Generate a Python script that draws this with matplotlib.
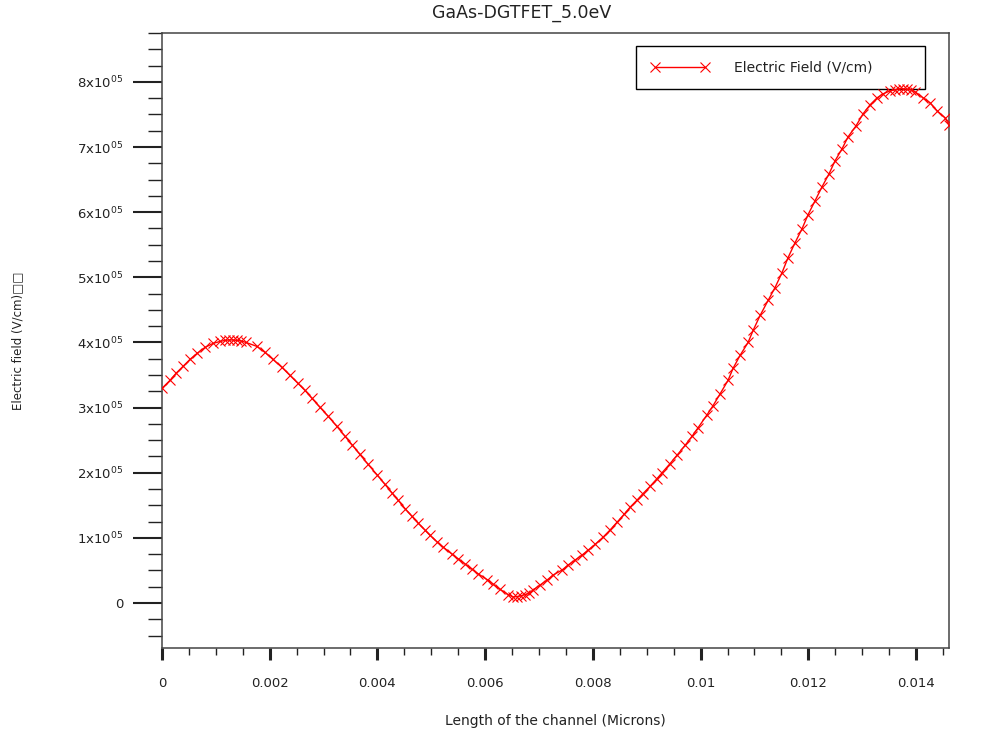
import numpy as np
import matplotlib
matplotlib.use("Agg")
import matplotlib.pyplot as plt
from matplotlib.ticker import MultipleLocator, FixedLocator, FixedFormatter

# --- dados extraídos da simulação (campo elétrico ao longo do canal) ---
# posição no canal (microns)
x_pos = [
    0.000000, 0.000149, 0.000260, 0.000390, 0.000520, 0.000650, 0.000798, 0.000947,
    0.001077, 0.001170, 0.001244, 0.001318, 0.001393, 0.001467, 0.001560, 0.001764,
    0.001913, 0.002061, 0.002228, 0.002377, 0.002525, 0.002655, 0.002785, 0.002934,
    0.003082, 0.003249, 0.003398, 0.003528, 0.003676, 0.003825, 0.003992, 0.004141,
    0.004271, 0.004382, 0.004512, 0.004642, 0.004753, 0.004883, 0.004976, 0.005106,
    0.005218, 0.005385, 0.005496, 0.005626, 0.005756, 0.005867, 0.006035, 0.006146,
    0.006276, 0.006425, 0.006517, 0.006592, 0.006666, 0.006740, 0.006814, 0.006889,
    0.007019, 0.007149, 0.007260, 0.007427, 0.007539, 0.007669, 0.007799, 0.007910,
    0.008040, 0.008188, 0.008318, 0.008448, 0.008578, 0.008690, 0.008820, 0.008931,
    0.009061, 0.009191, 0.009284, 0.009433, 0.009563, 0.009711, 0.009841, 0.009952,
    0.010120, 0.010231, 0.010361, 0.010509, 0.010602, 0.010732, 0.010881, 0.010974,
    0.011104, 0.011252, 0.011382, 0.011512, 0.011624, 0.011754, 0.011884, 0.011995,
    0.012125, 0.012255, 0.012385, 0.012496, 0.012626, 0.012738, 0.012886, 0.013016,
    0.013146, 0.013276, 0.013387, 0.013517, 0.013610, 0.013684, 0.013758, 0.013833,
    0.013907, 0.013981, 0.014130, 0.014260, 0.014390, 0.014538, 0.014610,
]

# campo elétrico (x1e5 V/cm)
e_field = [
    3.295, 3.418, 3.525, 3.632, 3.739, 3.831, 3.923, 3.985,
    4.015, 4.031, 4.038, 4.038, 4.031, 4.023, 4.000, 3.939,
    3.847, 3.739, 3.617, 3.494, 3.372, 3.264, 3.142, 3.004,
    2.870, 2.710, 2.560, 2.430, 2.280, 2.130, 1.970, 1.820,
    1.690, 1.580, 1.450, 1.330, 1.230, 1.120, 1.040, 0.940,
    0.860, 0.750, 0.680, 0.600, 0.520, 0.450, 0.360, 0.290,
    0.210, 0.130, 0.092, 0.100, 0.110, 0.130, 0.150, 0.199,
    0.276, 0.352, 0.429, 0.506, 0.582, 0.659, 0.736, 0.810,
    0.900, 1.010, 1.120, 1.240, 1.360, 1.470, 1.580, 1.680,
    1.790, 1.910, 2.000, 2.140, 2.270, 2.420, 2.560, 2.690,
    2.890, 3.030, 3.210, 3.418, 3.602, 3.801, 4.000, 4.184,
    4.414, 4.644, 4.843, 5.073, 5.303, 5.533, 5.747, 5.962,
    6.176, 6.391, 6.590, 6.789, 6.973, 7.157, 7.326, 7.510,
    7.648, 7.755, 7.816, 7.862, 7.877, 7.893, 7.893, 7.885,
    7.877, 7.847, 7.755, 7.678, 7.556, 7.448, 7.340,
]

x_ticks = [0, 0.002, 0.004, 0.006, 0.008, 0.010, 0.012, 0.014]
x_tick_labels = ['0', '0.002', '0.004', '0.006', '0.008', '0.01', '0.012', '0.014']
y_ticks = [0, 1, 2, 3, 4, 5, 6, 7, 8]

plt.rcParams['mathtext.fontset'] = 'custom'
plt.rcParams['mathtext.rm'] = 'DejaVu Sans'

x = np.array(x_pos)
E = np.array(e_field) * 1e5

fig = plt.figure(figsize=(10.01, 7.35), dpi=100)
ax = fig.add_axes([0.1618, 0.1184, 0.7862, 0.8367])

ax.plot(x, E, color='#ff0000', linewidth=1.0, marker='x', markersize=7,
        markeredgewidth=0.8, label='Electric Field (V/cm)', zorder=6)

ax.set_xlim(0, 0.01461)
ax.set_ylim(-0.69e5, 8.75e5)

# eixo X
ax.xaxis.set_major_locator(FixedLocator(x_ticks))
ax.xaxis.set_major_formatter(FixedFormatter(x_tick_labels))
ax.xaxis.set_minor_locator(MultipleLocator(0.0005))

# eixo Y com rótulos no formato "nx10^05"
y_vals = [v * 1e5 for v in y_ticks]
y_labels = ['0' if v == 0 else f'{v}x10$^{{05}}$' for v in y_ticks]
ax.yaxis.set_major_locator(FixedLocator(y_vals))
ax.yaxis.set_major_formatter(FixedFormatter(y_labels))
ax.yaxis.set_minor_locator(MultipleLocator(0.25e5))

ax.tick_params(axis='y', which='major', direction='out', length=21, width=1.5,
               pad=7, labelsize=9.5, colors='#222222')
ax.tick_params(axis='y', which='minor', direction='out', length=10, width=1.0,
               colors='#222222')
ax.tick_params(axis='x', which='major', direction='out', length=8.6, width=2.2,
               pad=12, labelsize=9.5, colors='#222222')
ax.tick_params(axis='x', which='minor', direction='out', length=5, width=1.0,
               colors='#222222')

for s in ax.spines.values():
    s.set_color('#444444')
    s.set_linewidth(1.1)

ax.set_xlabel('Length of the channel (Microns)', fontsize=10, color='#222222')
ax.xaxis.set_label_coords(0.5, -0.107)
ax.set_ylabel('Electric field (V/cm)\u25a1\u25a1', fontsize=8.5, color='#222222')
ax.yaxis.set_label_coords(-0.175, 0.5)

fig.text(522 / 1001, 1 - 13 / 735, 'GaAs-DGTFET_5.0eV', ha='center', va='center',
         fontsize=12.5, color='#222222')

leg = ax.legend(loc='upper left', bbox_to_anchor=(0.6023, 0.9789, 0.3672, 0),
                mode='expand', borderaxespad=0, numpoints=2, handlelength=4.25,
                handletextpad=1.75, borderpad=1.05, fontsize=10, fancybox=False,
                framealpha=1, edgecolor='black')
leg.get_frame().set_linewidth(1.0)
leg.set_zorder(2)
for t in leg.get_texts():
    t.set_color('#222222')

fig.savefig('out.png', dpi=100)
